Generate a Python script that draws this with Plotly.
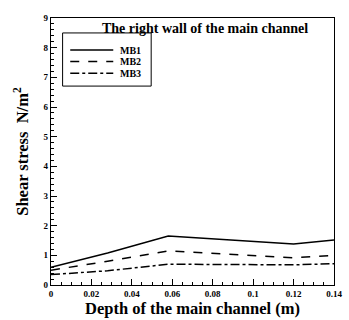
import plotly.graph_objects as go

# Depth positions along the main channel (m)
depth = [0.0, 0.028, 0.058, 0.12, 0.14]

# Shear stress on the right wall (N/m^2)
mb1 = [0.60, 1.08, 1.65, 1.38, 1.52]
mb2 = [0.50, 0.80, 1.15, 0.92, 1.00]
mb3 = [0.35, 0.48, 0.70, 0.68, 0.72]

series_names = ["MB1", "MB2", "MB3"]
series_values = [mb1, mb2, mb3]
dash_styles = ["solid", "dash", "dashdot"]

x_ticks = [0, 0.02, 0.04, 0.06, 0.08, 0.1, 0.12, 0.14]
x_tick_labels = ["0", "0.02", "0.04", "0.06", "0.08", "0.1", "0.12", "0.14"]
y_ticks = list(range(0, 10))

font_family = "Liberation Serif"

fig = go.Figure()
for name, vals, dash in zip(series_names, series_values, dash_styles):
    fig.add_trace(go.Scatter(
        x=depth, y=vals, mode="lines", name=name, showlegend=False,
        line=dict(color="black", width=1.5, dash=dash),
    ))

axis_common = dict(
    showgrid=False, zeroline=False,
    showline=True, linecolor="black", linewidth=1.2, mirror=True,
    ticks="inside", ticklen=6, tickwidth=1.2, tickcolor="black",
    ticklabeloverflow="allow",
    tickfont=dict(family=font_family, size=9, color="black", weight="bold"),
)

fig.update_xaxes(
    range=[0, 0.14], tickvals=x_ticks, ticktext=x_tick_labels,
    minor=dict(ticks="inside", ticklen=3, tickcolor="black", dtick=0.005),
    title=dict(text="Depth of the main channel (m)", standoff=2,
               font=dict(family=font_family, size=16.5, color="black", weight="bold")),
    **axis_common,
)
fig.update_yaxes(
    range=[0, 9], tickvals=y_ticks,
    minor=dict(ticks="inside", ticklen=3, tickcolor="black", dtick=0.2),
    title=dict(text="Shear stress  N/m<sup>2</sup>", standoff=10,
               font=dict(family=font_family, size=16.5, color="black", weight="bold")),
    **axis_common,
)

fig.add_annotation(
    x=0.545, y=0.998, xref="paper", yref="paper", xanchor="center", yanchor="top",
    text="The right wall of the main channel", showarrow=False,
    font=dict(family=font_family, size=14, color="black", weight="bold"),
)

# Legend box with line samples and labels, in plot-area fractions
legend_box = dict(x0=0.041, x1=0.354, y0=0.745, y1=0.944)
legend_rows = [0.880, 0.837, 0.793]
sample_x = (0.068, 0.220)
label_x = 0.237

fig.add_shape(type="rect", xref="paper", yref="paper",
              line=dict(color="black", width=1), fillcolor="white", **legend_box)
for name, dash, ry in zip(series_names, dash_styles, legend_rows):
    fig.add_shape(type="line", xref="paper", yref="paper",
                  x0=sample_x[0], x1=sample_x[1], y0=ry, y1=ry,
                  line=dict(color="black", width=1.5, dash=dash))
    fig.add_annotation(x=label_x, y=ry, xref="paper", yref="paper",
                       xanchor="left", yanchor="middle", text=name, showarrow=False,
                       font=dict(family=font_family, size=10, color="black", weight="bold"))

fig.update_layout(
    width=349, height=320,
    margin=dict(l=51, r=7, t=18, b=35),
    paper_bgcolor="white", plot_bgcolor="white",
    showlegend=False,
)

fig.write_html("out.html")
